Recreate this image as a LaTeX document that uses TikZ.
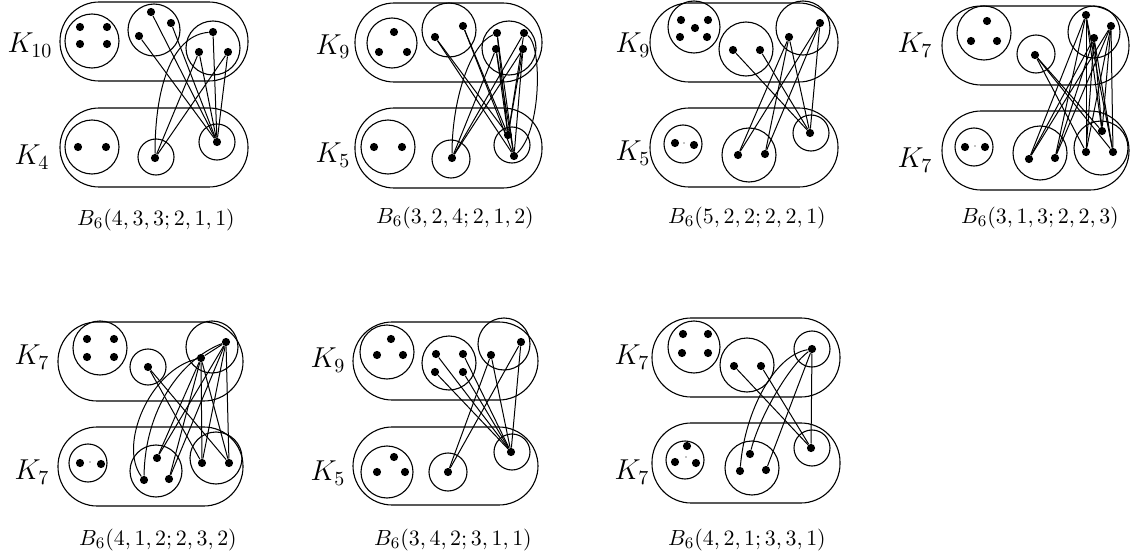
\documentclass[tikz,border=0pt]{standalone}
\usepackage{tikz}
\tikzset{
  dot/.style={circle,fill=black,inner sep=0pt,minimum size=4.1pt},
  tinydot/.style={circle,fill=black,inner sep=0pt,minimum size=0.6pt},
  stad/.style={line width=0.55pt,rounded corners=19.6pt},
  part/.style={line width=0.55pt},
  edge/.style={line width=0.5pt},
  klab/.style={font=\fontsize{14.5}{16}\selectfont},
  captext/.style={font=\fontsize{11}{13}\selectfont}
}
\begin{document}
\begin{tikzpicture}[x=0.5pt,y=-0.5pt]
\useasboundingbox (0,0) rectangle (1132,557);

% ================= Diagram 1 =================
\draw[stad] (60,2) rectangle (248,81);
\draw[stad] (60,108) rectangle (248,187);
\draw[part] (92,41) circle[radius=27];
\draw[part] (154,30) circle[radius=26];
\draw[part] (213,48) circle[radius=27];
\draw[part] (92,147) circle[radius=27];
\draw[part] (156,157) circle[radius=18];
\draw[part] (217,142) circle[radius=18];
\node[dot] (a1) at (80,27) {}; \node[dot] (a2) at (107,27) {};
\node[dot] (a3) at (80,44) {}; \node[dot] (a4) at (107,44) {};
\node[dot] (ap1) at (151,12) {}; \node[dot] (ap2) at (171,23) {}; \node[dot] (ap3) at (139,36) {};
\node[dot] (aq1) at (213,32) {}; \node[dot] (aq2) at (199,52) {}; \node[dot] (aq3) at (228,52) {};
\node[dot] (al1) at (78,147) {}; \node[dot] (al2) at (106,147) {};
\node[dot] (am) at (155,158) {};
\node[dot] (ar) at (217,142) {};
\draw[edge] (ap1) -- (ar); \draw[edge] (ap2) -- (ar); \draw[edge] (ap3) -- (ar);
\draw[edge] (aq1) -- (ar); \draw[edge] (aq2) -- (ar); \draw[edge] (aq3) -- (ar);
\draw[edge] (aq2) -- (am); \draw[edge] (aq3) -- (am);
\draw[edge] (aq1) .. controls (175,35) and (155,80) .. (am);
\node[klab] (ak1) at (30,45) {$K_{10}$};
\node[klab] (ak2) at (32,157) {$K_4$};
\node[captext] (ac) at (156,220) {$B_6(4,3,3;2,1,1)$};

% ================= Diagram 2 =================
\draw[stad] (355,3) rectangle (542,82);
\draw[stad] (355,108) rectangle (542,188);
\draw[part] (392,43) circle[radius=25];
\draw[part] (449,30) circle[radius=27];
\draw[part] (509,48) circle[radius=27];
\draw[part] (388,147) circle[radius=27];
\draw[part] (451,159) circle[radius=19];
\draw[part] (512,145) circle[radius=18];
\node[dot] (b1) at (394,32) {}; \node[dot] (b2) at (379,52) {}; \node[dot] (b3) at (407,52) {};
\node[dot] (bp1) at (435,37) {}; \node[dot] (bp2) at (463,26) {};
\node[dot] (bq1) at (497,33) {}; \node[dot] (bq2) at (524,33) {};
\node[dot] (bq3) at (496,49) {}; \node[dot] (bq4) at (523,49) {};
\node[dot] (bl1) at (374,147) {}; \node[dot] (bl2) at (402,147) {};
\node[dot] (bm) at (452,158) {};
\node[dot] (br1) at (508,135) {}; \node[dot] (br2) at (514,156) {};
\draw[edge] (bp1) -- (br1); \draw[edge] (bp1) -- (br2);
\draw[edge] (bp2) -- (br1); \draw[edge] (bp2) -- (br2);
\draw[edge] (bq1) .. controls (470,45) and (452,100) .. (bm);
\draw[edge] (bq1) -- (br1); \draw[edge] (bq1) -- (br2);
\draw[edge] (bq2) -- (bm); \draw[edge] (bq2) -- (br1);
\draw[edge] (bq2) .. controls (542,45) and (542,130) .. (br2);
\draw[edge] (bq3) -- (bm); \draw[edge] (bq3) -- (br1); \draw[edge] (bq3) -- (br2);
\draw[edge] (bq4) -- (bm); \draw[edge] (bq4) -- (br1); \draw[edge] (bq4) -- (br2);
\node[klab] (bk1) at (333,47) {$K_9$};
\node[klab] (bk2) at (333,155) {$K_5$};
\node[captext] (bc) at (455,218) {$B_6(3,2,4;2,1,2)$};

% ================= Diagram 3 =================
\draw[stad] (650,3) rectangle (838,82);
\draw[stad] (650,108) rectangle (838,187);
\draw[part] (694,27) circle[radius=26];
\draw[part] (746,49) circle[radius=27];
\draw[part] (803,28) circle[radius=27];
\draw[part] (683,144) circle[radius=19];
\draw[part] (749,155) circle[radius=27];
\draw[part] (811,133) circle[radius=18];
\node[dot] (c1) at (681,20) {}; \node[dot] (c2) at (708,20) {}; \node[dot] (c3) at (695,28) {};
\node[dot] (c4) at (680,37) {}; \node[dot] (c5) at (707,37) {};
\node[dot] (cp1) at (733,50) {}; \node[dot] (cp2) at (760,50) {};
\node[dot] (cq1) at (789,37) {}; \node[dot] (cq2) at (820,23) {};
\node[dot] (cl1) at (675,143) {}; \node[dot] (cl2) at (694,145) {};
\node[tinydot] (cl0) at (684,143) {};
\node[dot] (cm1) at (738,155) {}; \node[dot] (cm2) at (765,154) {};
\node[dot] (cr) at (810,133) {};
\draw[edge] (cp1) -- (cr); \draw[edge] (cp2) -- (cr);
\draw[edge] (cq1) -- (cm1); \draw[edge] (cq1) -- (cm2); \draw[edge] (cq1) -- (cr);
\draw[edge] (cq2) -- (cm1); \draw[edge] (cq2) -- (cm2); \draw[edge] (cq2) -- (cr);
\node[klab] (ck1) at (633,45) {$K_9$};
\node[klab] (ck2) at (633,153) {$K_5$};
\node[captext] (cc) at (747,218) {$B_6(5,2,2;2,2,1)$};

% ================= Diagram 4 =================
\draw[stad] (942,6) rectangle (1129,85);
\draw[stad] (942,111) rectangle (1129,190);
\draw[part] (984,33) circle[radius=27];
\draw[part] (1036,54) circle[radius=19];
\draw[part] (1094,32) circle[radius=26];
\draw[part] (974,147) circle[radius=19];
\draw[part] (1040,153) circle[radius=27];
\draw[part] (1101,148) circle[radius=27];
\node[dot] (d1) at (987,21) {}; \node[dot] (d2) at (971,41) {}; \node[dot] (d3) at (997,41) {};
\node[dot] (dp) at (1035,55) {};
\node[dot] (dq1) at (1086,15) {}; \node[dot] (dq2) at (1111,26) {}; \node[dot] (dq3) at (1094,38) {};
\node[dot] (dl1) at (965,147) {}; \node[dot] (dl2) at (985,147) {};
\node[tinydot] (dl0) at (975,146) {};
\node[dot] (dm1) at (1029,159) {}; \node[dot] (dm2) at (1055,158) {};
\node[dot] (dr1) at (1102,131) {}; \node[dot] (dr2) at (1086,152) {}; \node[dot] (dr3) at (1113,152) {};
\draw[edge] (dp) -- (dr1); \draw[edge] (dp) -- (dr2); \draw[edge] (dp) -- (dr3);
\foreach \q in {dq1,dq2,dq3}{
  \foreach \r in {dm1,dm2,dr1,dr2,dr3}{ \draw[edge] (\q) -- (\r); }
}
\node[klab] (dk1) at (915,45) {$K_7$};
\node[klab] (dk2) at (915,160) {$K_7$};
\node[captext] (dc) at (1040,218) {$B_6(3,1,3;2,2,3)$};

% ================= Diagram 5 =================
\draw[stad] (58,322) rectangle (243,401);
\draw[stad] (58,427) rectangle (243,506);
\draw[part] (100,348) circle[radius=27];
\draw[part] (148,367) circle[radius=18];
\draw[part] (212,347) circle[radius=26];
\draw[part] (88,463) circle[radius=19];
\draw[part] (156,471) circle[radius=26];
\draw[part] (216,458) circle[radius=26];
\node[dot] (e1) at (87,339) {}; \node[dot] (e2) at (114,339) {};
\node[dot] (e3) at (87,357) {}; \node[dot] (e4) at (114,357) {};
\node[dot] (ep) at (148,367) {};
\node[dot] (eq1) at (226,342) {}; \node[dot] (eq2) at (201,358) {};
\node[dot] (el1) at (80,463) {}; \node[dot] (el2) at (101,464) {};
\node[tinydot] (el0) at (90,462) {};
\node[dot] (em1) at (157,458) {}; \node[dot] (em2) at (144,480) {}; \node[dot] (em3) at (169,479) {};
\node[dot] (er1) at (202,463) {}; \node[dot] (er2) at (229,463) {};
\draw[edge] (ep) -- (er1); \draw[edge] (ep) -- (er2);
\draw[edge] (eq2) .. controls (150,370) and (118,445) .. (em2);
\draw[edge] (eq1) .. controls (180,360) and (145,410) .. (em2);
\draw[edge] (eq1) -- (eq2);
\foreach \q in {eq1,eq2}{
  \foreach \r in {em1,em3,er1,er2}{ \draw[edge] (\q) -- (\r); }
}
\node[klab] (ek1) at (32,357) {$K_7$};
\node[klab] (ek2) at (32,472) {$K_7$};
\node[captext] (ec) at (158,540) {$B_6(4,1,2;2,3,2)$};

% ================= Diagram 6 =================
\draw[stad] (353,322) rectangle (538,400);
\draw[stad] (353,427) rectangle (538,505);
\draw[part] (387,352) circle[radius=27];
\draw[part] (449,363) circle[radius=27];
\draw[part] (504,344) circle[radius=26];
\draw[part] (387,472) circle[radius=26];
\draw[part] (448,472) circle[radius=19];
\draw[part] (512,452) circle[radius=18];
\node[dot] (f1) at (391,339) {}; \node[dot] (f2) at (377,355) {}; \node[dot] (f3) at (403,355) {};
\node[dot] (fp1) at (436,354) {}; \node[dot] (fp2) at (463,354) {};
\node[dot] (fp3) at (435,372) {}; \node[dot] (fp4) at (463,372) {};
\node[dot] (fq1) at (491,355) {}; \node[dot] (fq2) at (521,342) {};
\node[dot] (fl1) at (394,457) {}; \node[dot] (fl2) at (377,472) {}; \node[dot] (fl3) at (405,472) {};
\node[dot] (fm) at (448,472) {};
\node[dot] (fr) at (511,452) {};
\foreach \p in {fp1,fp2,fp3,fp4}{ \draw[edge] (\p) -- (fr); }
\draw[edge] (fq1) -- (fm); \draw[edge] (fq1) -- (fr);
\draw[edge] (fq2) -- (fm); \draw[edge] (fq2) -- (fr);
\node[klab] (fk1) at (328,360) {$K_9$};
\node[klab] (fk2) at (328,473) {$K_5$};
\node[captext] (fc) at (453,540) {$B_6(3,4,2;3,1,1)$};

% ================= Diagram 7 =================
\draw[stad] (652,318) rectangle (840,397);
\draw[stad] (652,423) rectangle (840,503);
\draw[part] (694,347) circle[radius=26];
\draw[part] (747,365) circle[radius=27];
\draw[part] (812,349) circle[radius=18];
\draw[part] (685,460) circle[radius=19];
\draw[part] (752,468) circle[radius=27];
\draw[part] (812,448) circle[radius=18];
\node[dot] (g1) at (683,334) {}; \node[dot] (g2) at (708,334) {};
\node[dot] (g3) at (682,353) {}; \node[dot] (g4) at (708,353) {};
\node[dot] (gp1) at (734,366) {}; \node[dot] (gp2) at (761,366) {};
\node[dot] (gq) at (812,349) {};
\node[dot] (gl1) at (687,446) {}; \node[dot] (gl2) at (675,462) {}; \node[dot] (gl3) at (696,463) {};
\node[tinydot] (gl0) at (686,457) {};
\node[dot] (gm1) at (750,454) {}; \node[dot] (gm2) at (740,471) {}; \node[dot] (gm3) at (766,470) {};
\node[dot] (gr) at (811,448) {};
\draw[edge] (gp1) -- (gr); \draw[edge] (gp2) -- (gr);
\draw[edge] (gq) -- (gr);
\draw[edge] (gq) .. controls (775,355) and (745,410) .. (gm2);
\draw[edge] (gq) .. controls (790,365) and (760,415) .. (gm1);
\draw[edge] (gq) -- (gm3);
\node[klab] (gk1) at (632,357) {$K_7$};
\node[klab] (gk2) at (632,472) {$K_7$};
\node[captext] (gc) at (747,540) {$B_6(4,2,1;3,3,1)$};
\end{tikzpicture}
\end{document}
